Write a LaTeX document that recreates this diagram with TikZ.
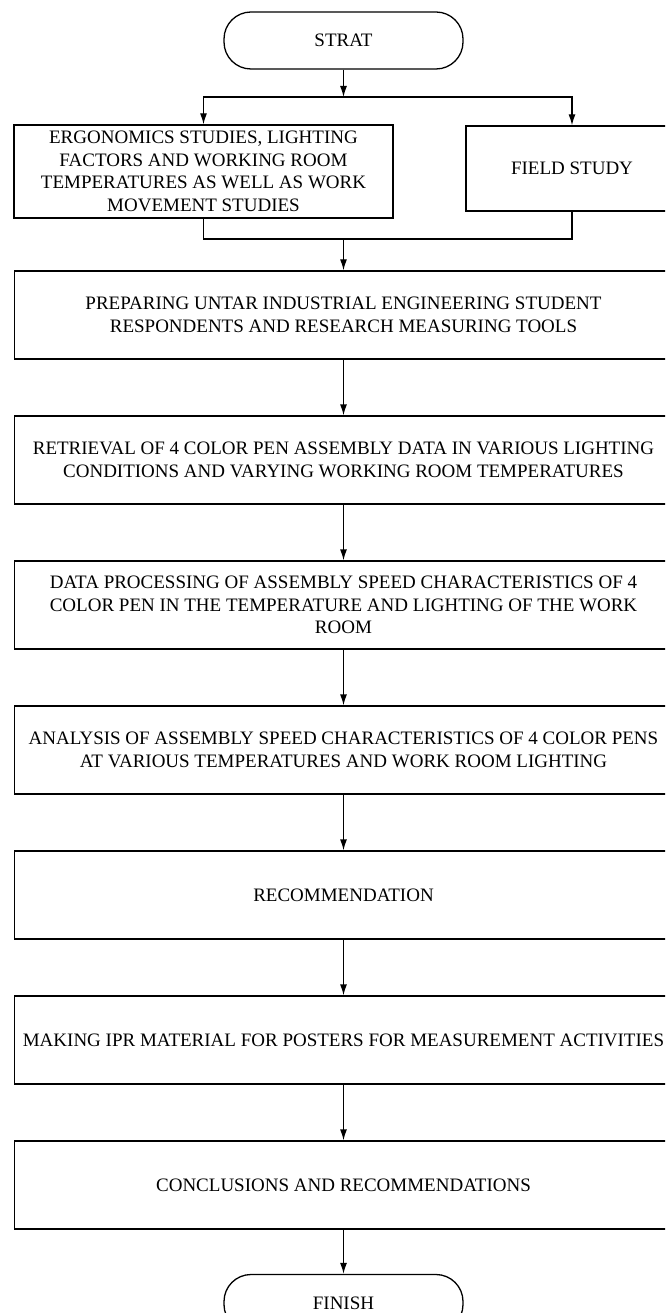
\documentclass[tikz,border=0pt]{standalone}
\usepackage{fontspec}
\setmainfont{Liberation Serif}
\usepackage{tikz}
\usetikzlibrary{shapes,arrows.meta,positioning}

\begin{document}
\begin{tikzpicture}[x=1pt, y=1pt, node distance=145pt, auto,
    font=\fontsize{19}{22.7}\selectfont]
    \tikzstyle{block} = [rectangle, draw, line width=1.3pt, align=center,
        minimum width=658pt, minimum height=88pt, inner sep=0pt]
    \tikzstyle{sidebox} = [rectangle, draw, line width=1.3pt, align=center, inner sep=0pt]
    \tikzstyle{terminal} = [rectangle, rounded corners=27pt, draw, line width=1.3pt,
        minimum width=239pt, minimum height=57pt]
    \tikzstyle{line} = [draw, line width=1.3pt, -{Latex[length=11pt,width=7pt]}]
    \tikzstyle{wire} = [draw, line width=1.3pt]

    \useasboundingbox (0,0) rectangle (665,-1313);
    \clip (0,0) rectangle (665,-1313);

    \node [terminal] (start) at (343.5,-40.5) {STRAT};
    \node [sidebox, minimum width=379pt, minimum height=93pt] (ergo) at (203.5,-171.5)
        {ERGONOMICS STUDIES, LIGHTING\\FACTORS AND WORKING ROOM\\TEMPERATURES AS WELL AS WORK\\MOVEMENT STUDIES};
    \node [sidebox, minimum width=212pt, minimum height=85pt] (field) at (572,-168.5) {FIELD STUDY};
    \node [block] (prep) at (343.5,-315)
        {PREPARING UNTAR INDUSTRIAL ENGINEERING STUDENT\\RESPONDENTS AND RESEARCH MEASURING TOOLS};
    \node [block, below of=prep] (retr)
        {RETRIEVAL OF 4 COLOR PEN ASSEMBLY DATA IN VARIOUS LIGHTING\\CONDITIONS AND VARYING WORKING ROOM TEMPERATURES};
    \node [block, below of=retr] (proc)
        {DATA PROCESSING OF ASSEMBLY SPEED CHARACTERISTICS OF 4\\COLOR PEN IN THE TEMPERATURE AND LIGHTING OF THE WORK\\ROOM};
    \node [block, below of=proc] (anal)
        {ANALYSIS OF ASSEMBLY SPEED CHARACTERISTICS OF 4 COLOR PENS\\AT VARIOUS TEMPERATURES AND WORK ROOM LIGHTING};
    \node [block, below of=anal] (recom) {RECOMMENDATION};
    \node [block, below of=recom] (ipr)
        {MAKING IPR MATERIAL FOR POSTERS FOR MEASUREMENT ACTIVITIES};
    \node [block, below of=ipr] (concl) {CONCLUSIONS AND RECOMMENDATIONS};
    \node [terminal, below of=concl, node distance=118pt] (finish) {FINISH};

    \coordinate (split) at (343.5,-97);
    \coordinate (join) at (343.5,-239);

    \path [line] (start) -- (split);
    \path [line] (split) -| (ergo);
    \path [line] (split) -| (field);
    \path [wire] (ergo) |- (join) -| (field);
    \path [line] (join) -- (prep);
    \path [line] (prep) -- (retr);
    \path [line] (retr) -- (proc);
    \path [line] (proc) -- (anal);
    \path [line] (anal) -- (recom);
    \path [line] (recom) -- (ipr);
    \path [line] (ipr) -- (concl);
    \path [line] (concl) -- (finish);
\end{tikzpicture}
\end{document}
